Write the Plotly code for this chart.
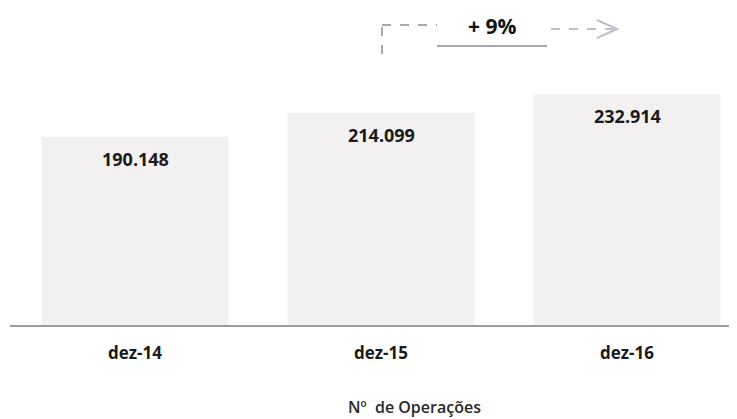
import plotly.graph_objects as go

# ---- data ----
categories = ["dez-14", "dez-15", "dez-16"]
operations = [190148, 214099, 232914]
value_labels = ["190.148", "214.099", "232.914"]
axis_title = "Nº  de Operações"
growth_label = "+ 9%"

# the page body adds an 8px offset; size the figure to fit the window
OFF = 8
W, H = 737 - OFF, 419 - OFF
L, R, T = 10 - OFF, 0, 60 - OFF
BASE = 325 - OFF                # baseline (figure pixels)
B = H - BASE
plot_w = W - L - R
plot_h = H - T - B
STEP = 246.0                    # pixels per category
X0 = 135 - OFF                  # centre of first category (figure px)

bar_color = "#f3f0f2"
font_family = "Open Sans, DejaVu Sans, sans-serif"

fig = go.Figure()
fig.add_trace(go.Bar(
    x=categories,
    y=operations,
    marker=dict(color=bar_color, line=dict(width=0)),
    hoverinfo="skip",
    showlegend=False,
))

for c, v, lab in zip(categories, operations, value_labels):
    fig.add_annotation(
        x=c, y=v, xref="x", yref="y", text=f"<b>{lab}</b>",
        showarrow=False, yanchor="middle", yshift=-22,
        font=dict(family=font_family, size=18, color="#1a1a1a"),
    )

def px_x(p):
    # reference pixel -> paper fraction
    return (p - OFF - L) / plot_w

def px_y(p):
    return (BASE - (p - OFF)) / plot_h

fig.add_annotation(
    x=px_x(414), y=px_y(407), xref="paper", yref="paper",
    text=axis_title, showarrow=False, xanchor="center", yanchor="middle",
    font=dict(family=font_family, size=16, color="#2a2a2a", weight=600),
)

dash_col = "#a9a9a9"
arrow_col = "#bfc0cc"
fig.add_shape(type="line", xref="paper", yref="paper",
              x0=px_x(382), x1=px_x(382), y0=px_y(27), y1=px_y(63),
              line=dict(color=dash_col, width=2, dash="dash"))
fig.add_shape(type="line", xref="paper", yref="paper",
              x0=px_x(382), x1=px_x(437), y0=px_y(25), y1=px_y(25),
              line=dict(color=dash_col, width=2, dash="dash"))
fig.add_shape(type="line", xref="paper", yref="paper",
              x0=px_x(437), x1=px_x(547), y0=px_y(46), y1=px_y(46),
              line=dict(color="#a6a9b1", width=2))
fig.add_shape(type="line", xref="paper", yref="paper",
              x0=px_x(551), x1=px_x(614), y0=px_y(29), y1=px_y(29),
              line=dict(color=arrow_col, width=2, dash="dash"))
fig.add_shape(type="path", xref="paper", yref="paper",
              path=(f"M {px_x(597)} {px_y(20)} L {px_x(617)} {px_y(29)} "
                    f"L {px_x(597)} {px_y(38)}"),
              line=dict(color=arrow_col, width=2))
fig.add_annotation(
    x=px_x(492), y=px_y(26), xref="paper", yref="paper",
    text=f"<b>{growth_label}</b>", showarrow=False,
    xanchor="center", yanchor="middle",
    font=dict(family=font_family, size=21, color="#111111"),
)

x_lo = -(X0 - L) / STEP
fig.update_layout(
    width=W, height=H,
    margin=dict(l=L, r=R, t=T, b=B, pad=0),
    paper_bgcolor="white", plot_bgcolor="white",
    bargap=0.24,
    showlegend=False,
    xaxis=dict(
        range=[x_lo, x_lo + plot_w / STEP],
        showline=True, linecolor="#9c9c9c", linewidth=1.5,
        showgrid=False, zeroline=False,
        ticks="", ticklabelstandoff=12,
        tickfont=dict(family=font_family, size=17, color="#1a1a1a", weight="bold"),
    ),
    yaxis=dict(
        range=[0, plot_h * 1010],
        visible=False, showgrid=False, zeroline=False,
    ),
)

fig.write_html("out.html")
